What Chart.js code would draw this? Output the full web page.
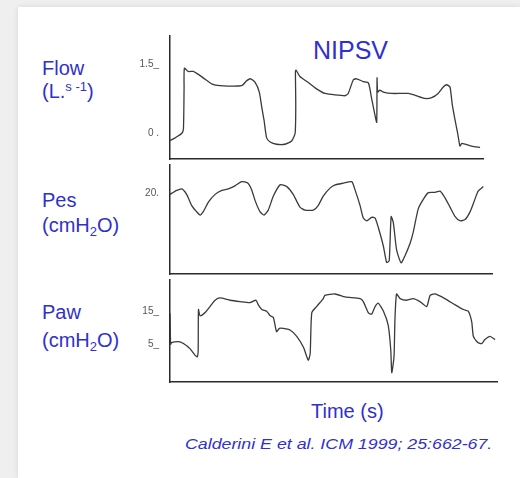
<!DOCTYPE html>
<html><head><meta charset="utf-8">
<script src="https://cdn.jsdelivr.net/npm/chart.js@4/dist/chart.umd.min.js"></script>
<style>
html,body{margin:0;padding:0;}
body{width:520px;height:478px;background:#efefef;position:relative;overflow:hidden;font-family:"Liberation Sans",Arial,sans-serif;}
#card{position:absolute;left:18px;top:7px;right:0;bottom:0;background:#fff;box-shadow:0 0 6px rgba(0,0,0,0.10);}
.lbl{position:absolute;color:#3030cf;white-space:nowrap;font-size:20px;line-height:20px;}
.lbl sup{font-size:13px;vertical-align:7px;line-height:0;}
.lbl sub{font-size:13px;vertical-align:-4px;line-height:0;}
canvas{position:absolute;}
</style></head><body>
<div id="card"></div>
<div class="lbl" style="left:313px;top:38px;font-size:25px;line-height:25px">NIPSV</div>
<div class="lbl" style="left:42px;top:58px">Flow</div>
<div class="lbl" style="left:42px;top:81px">(L.<sup>s -1</sup>)</div>
<div class="lbl" style="left:42px;top:190px">Pes</div>
<div class="lbl" style="left:42px;top:215px">(cmH<sub>2</sub>O)</div>
<div class="lbl" style="left:42px;top:302px">Paw</div>
<div class="lbl" style="left:42px;top:330px">(cmH<sub>2</sub>O)</div>
<div class="lbl" style="left:311px;top:401px">Time (s)</div>
<div class="lbl" style="left:185px;top:436px;font-size:15px;line-height:15px;font-style:italic;transform:scaleX(1.185);transform-origin:0 0">Calderini E et al. ICM 1999; 25:662-67.</div>
<canvas id="cFlow"></canvas>
<canvas id="cPes"></canvas>
<canvas id="cPaw"></canvas>
<script>
// ---- Data (time in s) ----
const flowTime = [0,0.16,0.37,0.42,0.44,0.45,0.57,0.73,1.04,1.30,1.56,2.24,2.40,2.52,2.66,2.79,2.87,2.94,3.02,3.13,3.33,3.59,3.80,3.91,3.93,3.92,3.94,4.06,4.32,4.58,4.84,5.47,5.57,5.73,5.83,6.04,6.20,6.30,6.41,6.46,6.47,6.49,6.56,6.67,6.93,7.45,7.66,7.97,8.18,8.38,8.54,8.65,8.75,8.82,8.91,8.99,9.06,9.12,9.43,9.69];
const flowValues = [-0.16,-0.10,0.00,0.10,0.98,1.42,1.35,1.35,1.21,1.08,1.04,1.04,1.15,1.19,1.11,0.90,0.56,0.28,-0.10,-0.19,-0.24,-0.24,-0.17,0.00,0.63,1.35,1.38,1.24,1.11,0.97,0.87,0.82,0.87,1.17,1.19,1.13,1.10,0.76,0.38,0.24,1.21,0.90,0.94,0.90,0.87,0.87,0.83,0.76,0.78,0.87,1.01,1.06,1.01,0.63,0.28,0.00,-0.28,-0.22,-0.28,-0.31];

const pesTime = [0,0.21,0.37,0.52,0.68,0.83,0.94,1.04,1.20,1.41,1.62,1.82,2.03,2.24,2.42,2.55,2.66,2.81,2.94,3.07,3.23,3.44,3.65,3.85,4.06,4.22,4.48,4.63,4.79,5.00,5.16,5.42,5.68,5.78,5.94,6.04,6.15,6.30,6.41,6.51,6.67,6.77,6.85,6.91,6.98,7.08,7.22,7.34,7.50,7.60,7.76,7.92,8.07,8.28,8.44,8.59,8.75,8.91,9.06,9.22,9.38,9.53,9.63,9.79];
const pesValues = [19.75,20.8,21.2,19.75,16.8,15.2,14.3,15.2,17.7,19.75,20.8,21.2,22.0,23.1,22.8,21.0,18.1,15.2,14.3,15.6,19.3,22.25,21.8,19.75,16.4,15.6,15.6,16.8,19.3,21.4,22.25,22.7,23.1,21.0,16.8,13.5,12.8,13.7,13.5,11.0,6.0,1.8,2.25,13.9,12.25,5.2,1.7,3.5,6.8,9.75,16.0,18.5,20.2,20.3,20.6,18.9,16.4,13.9,12.8,13.1,15.2,18.5,20.6,21.8];

const pawTime = [0,0.02,0.05,0.26,0.42,0.63,0.78,0.85,0.88,0.89,0.94,1.09,1.25,1.41,1.56,1.88,2.19,2.50,2.69,2.76,2.87,3.02,3.13,3.23,3.33,3.42,3.54,3.75,3.96,4.17,4.32,4.38,4.43,4.58,4.79,4.84,5.16,5.47,5.94,6.04,6.20,6.30,6.41,6.51,6.67,6.82,6.90,6.93,7.00,7.03,7.08,7.19,7.40,7.60,7.81,8.02,8.13,8.28,8.59,8.91,9.17,9.32,9.43,9.48,9.62,9.74,9.84,10.00,10.16];
const pawValues = [14.4,5.0,5.5,5.8,5.2,3.6,1.7,1.2,3.1,15.5,13.6,14.5,16.4,18.3,19.0,18.3,17.9,17.6,18.3,16.9,15.5,15.0,13.6,13.1,8.8,9.8,9.8,9.3,7.4,4.1,0.2,2.1,14.5,16.4,18.8,19.8,20.2,19.3,18.8,17.9,14.5,14.1,16.4,17.4,15.0,10.7,3.1,-3.6,1.2,12.6,20.2,18.8,18.3,18.8,17.9,16.4,19.8,20.2,18.8,16.9,15.5,15.0,11.7,7.4,5.5,5.2,6.4,7.4,6.4];

// ---- Tick labels ----
const flowTicks = [0, 1.5];
const flowTickLabels = ['0 .', '1.5_'];
const pesTicks = [20];
const pesTickLabels = ['20.'];
const pawTicks = [5, 15];
const pawTickLabels = ['5_', '15_'];

const PAD = 6, AXIS_W = 70;
function makePanel(id, left, top, areaW, areaH, xMax, yMin, yMax, times, values, ticks, tickLabels) {
  const cv = document.getElementById(id);
  const w = AXIS_W + areaW + PAD, h = areaH + 2 * PAD;
  cv.width = w; cv.height = h;
  cv.style.left = left + 'px'; cv.style.top = (top - PAD) + 'px';
  cv.style.width = w + 'px'; cv.style.height = h + 'px';
  new Chart(cv, {
    type: 'line',
    data: { datasets: [{
      data: times.map((t, i) => ({ x: t, y: values[i] })),
      borderColor: '#3a3a3a', borderWidth: 1.3, pointRadius: 0, tension: 0.2, fill: false
    }]},
    options: {
      responsive: false, animation: false,
      layout: { padding: { top: PAD, bottom: PAD, left: 0, right: PAD } },
      plugins: { legend: { display: false }, tooltip: { enabled: false } },
      scales: {
        x: { type: 'linear', min: 0, max: xMax,
             ticks: { display: false }, grid: { display: false },
             border: { display: true, color: '#2a2a2a', width: 1.5 },
             afterFit: s => { s.height = 0; } },
        y: { type: 'linear', min: yMin, max: yMax,
             afterBuildTicks: s => { s.ticks = ticks.map(v => ({ value: v })); },
             ticks: { callback: (v) => { const i = ticks.indexOf(v); return i >= 0 ? tickLabels[i] : ''; },
                      font: { size: 10, family: 'Liberation Sans' }, color: '#555', padding: 3 },
             grid: { display: false },
             border: { display: true, color: '#2a2a2a', width: 1.5 },
             afterFit: s => { s.width = AXIS_W; } }
      }
    }
  });
}
const PXS = 32; // px per second
makePanel('cFlow', 100, 33, 313, 129, 313 / PXS, -0.5625, 2.125, flowTime, flowValues, flowTicks, flowTickLabels);
makePanel('cPes', 100, 162, 322, 115, 322 / PXS, -1.25, 27.5, pesTime, pesValues, pesTicks, pesTickLabels);
makePanel('cPaw', 100, 277, 327, 108, 327 / PXS, -6.43, 24.43, pawTime, pawValues, pawTicks, pawTickLabels);
</script>
</body></html>
